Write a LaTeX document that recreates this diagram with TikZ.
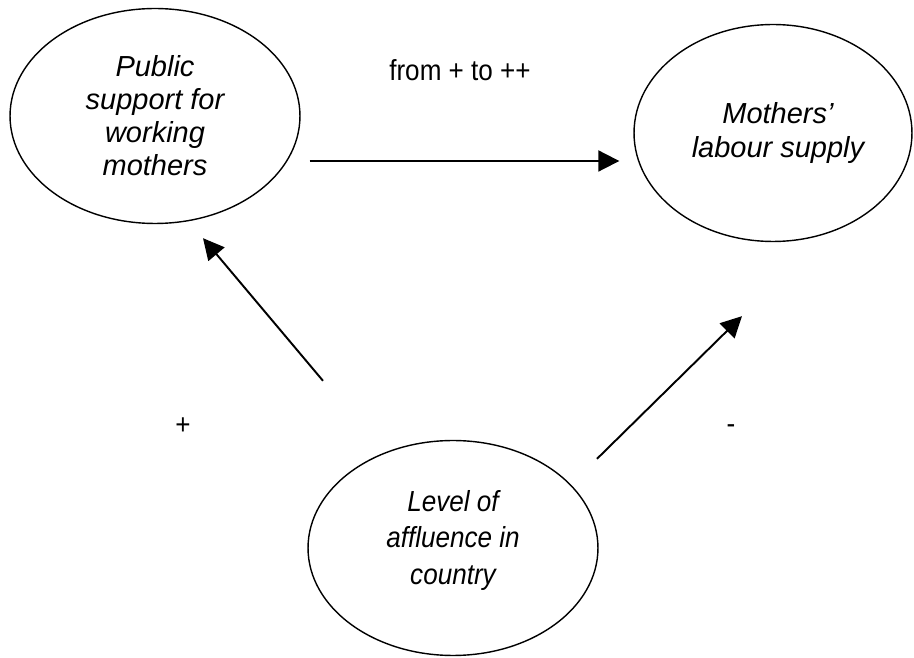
\documentclass[tikz,border=0pt]{standalone}
\usepackage{fontspec}
\setmainfont{Liberation Sans}
\newfontfamily\narrowfont{Liberation Sans}[FakeStretch=0.9]
\usetikzlibrary{shapes.geometric, arrows.meta, positioning}

\begin{document}
\begin{tikzpicture}[
    x=0.02cm, y=-0.02cm,
    bubble/.style={ellipse, draw, line width=0.8pt, inner sep=0pt, align=center, font=\fontsize{16.5}{18.8}\selectfont\itshape},
    arrow/.style={-{Triangle[length=0.42cm, width=0.42cm]}, line width=1.1pt},
    sign/.style={font=\narrowfont\fontsize{16.5}{18.8}\selectfont}
]
\useasboundingbox (0,0) rectangle (914,658);

\node[bubble, minimum width=5.8cm, minimum height=4.3cm] (support) at (155,116) {Public\\support for\\working\\mothers};
\node[bubble, minimum width=5.56cm, minimum height=4.34cm] (labour) at (773,133) {\hspace{0.2cm}Mothers’\\\hspace{0.2cm}labour supply};
\node[bubble, minimum width=5.8cm, minimum height=4.3cm, font=\narrowfont\fontsize{16.5}{21}\selectfont\itshape] (affluence) at (453,548) {Level of\\affluence in\\country\\[-9pt]\mbox{}};

\draw[arrow] ([shift={(9,45)}]support.east) -- ([shift={(-14,28)}]labour.west);
\draw[arrow] ([shift={(-130,-59)}]affluence.north) -- ([shift={(48,14)}]support.south);
\draw[arrow] ([shift={(144,19)}]affluence.north) -- ([shift={(-31,74)}]labour.south);

\node[sign] (trend) at (460,70) {from + to ++};
\node[sign] (plus) at (183,426) {+};
\node[sign] (minus) at (731,429) {-};

\end{tikzpicture}
\end{document}
